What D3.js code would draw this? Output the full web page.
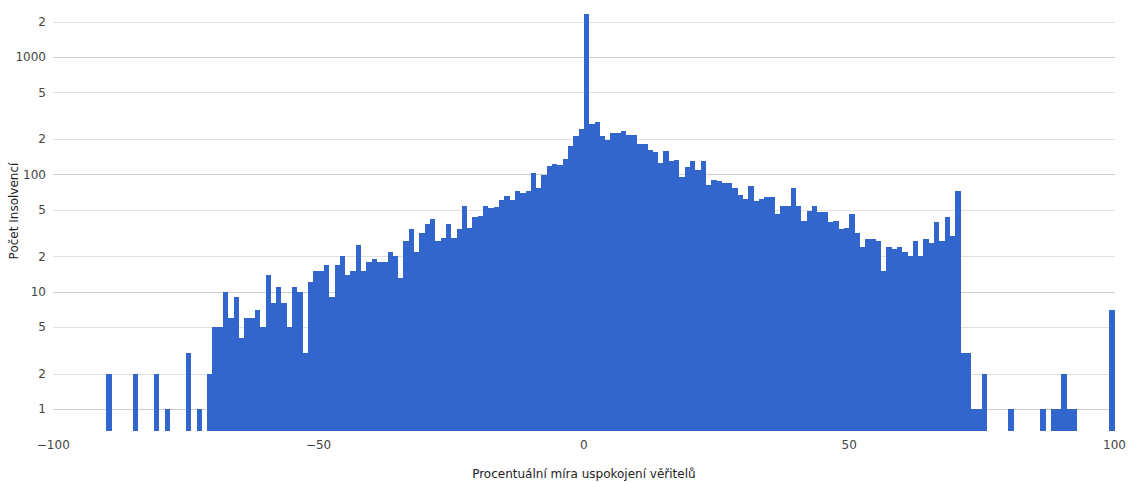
<!DOCTYPE html>
<html>
<head>
<meta charset="utf-8">
<script src="https://cdn.jsdelivr.net/npm/d3@7"></script>
<style>
  html, body { margin: 0; padding: 0; background: #fff; }
  svg { display: block; font-family: "DejaVu Sans", sans-serif; }
</style>
</head>
<body>
<svg id="chart" width="1130" height="482"></svg>
<script>
// Bin start (percent) of each non-empty 1%-wide bin
const binStarts = [
  -90, -85, -81, -79, -75, -73, -71, -70, -69, -68, -67, -66, -65, -64, -63, -62, -61,
  -60, -59, -58, -57, -56, -55, -54, -53, -52, -51, -50, -49, -48, -47, -46, -45, -44,
  -43, -42, -41, -40, -39, -38, -37, -36, -35, -34, -33, -32, -31, -30, -29, -28, -27,
  -26, -25, -24, -23, -22, -21, -20, -19, -18, -17, -16, -15, -14, -13, -12, -11, -10,
  -9, -8, -7, -6, -5, -4, -3, -2, -1, 0, 1, 2, 3, 4, 5, 6, 7, 8, 9, 10, 11, 12, 13, 14,
  15, 16, 17, 18, 19, 20, 21, 22, 23, 24, 25, 26, 27, 28, 29, 30, 31, 32, 33, 34, 35,
  36, 37, 38, 39, 40, 41, 42, 43, 44, 45, 46, 47, 48, 49, 50, 51, 52, 53, 54, 55, 56,
  57, 58, 59, 60, 61, 62, 63, 64, 65, 66, 67, 68, 69, 70, 71, 72, 73, 74, 75, 80, 86,
  88, 89, 90, 91, 92, 99
];
// Number of insolvencies in each bin
const counts = [
  2, 2, 2, 1, 3, 1, 2, 5, 5, 10, 6, 9, 4, 6, 6, 7, 5,
  14, 8, 11, 8, 5, 11, 10, 3, 12, 15, 15, 17, 9, 17, 20, 14, 15,
  25, 15, 18, 19, 18, 18, 22, 20, 13, 27, 34, 22, 32, 38, 42, 27, 29,
  38, 29, 34, 54, 35, 43, 44, 54, 52, 53, 60, 66, 61, 72, 70, 73, 102,
  77, 99, 119, 123, 120, 136, 176, 214, 244, 2330, 269, 278, 214, 196, 224, 224, 234, 215, 215, 182, 181, 163, 155, 125,
  157, 130, 132, 95, 116, 129, 110, 130, 82, 90, 88, 85, 84, 76, 67, 62, 80, 59, 62, 64, 64,
  46, 54, 54, 76, 54, 40, 49, 54, 48, 48, 39, 40, 34, 35, 46, 32, 24, 28, 28, 27, 15,
  24, 23, 24, 22, 20, 27, 20, 28, 26, 39, 27, 43, 30, 72, 3, 3, 1, 1, 2, 1, 1,
  1, 1, 2, 1, 1, 7
];
const binWidth = 1;

const xTickValues = [-100, -50, 0, 50, 100];
const xTickLabels = ["\u2212100", "\u221250", "0", "50", "100"];
const yTickValues = [1, 2, 5, 10, 20, 50, 100, 200, 500, 1000, 2000];
const yTickLabels = ["1", "2", "5", "10", "2", "5", "100", "2", "5", "1000", "2"];

const xTitle = "Procentuální míra uspokojení věřitelů";
const yTitle = "Počet Insolvencí";

(function () {
const svg = d3.select("#chart");
const pLeft = 53.3, pRight = 1114.5, pTop = 10.5, pBottom = 431;

const x = d3.scaleLinear().domain([-100, 100]).range([pLeft, pRight]);
const y = d3.scaleLog().domain([0.65, 2500]).range([pBottom, pTop]);

// gridlines
const grid = svg.append("g");
yTickValues.forEach(v => {
  const major = Math.abs(Math.log10(v) - Math.round(Math.log10(v))) < 1e-9;
  const yy = Math.round(y(v)) + 0.5;
  grid.append("line")
    .attr("x1", pLeft).attr("x2", 1115)
    .attr("y1", yy).attr("y2", yy)
    .attr("stroke", major ? "#cccccc" : "#e0e0e0")
    .attr("stroke-width", 1);
});

// bars
const data = binStarts.map((b, i) => ({ b, c: counts[i] })).filter(d => d.c > 0);
svg.append("g")
  .attr("shape-rendering", "crispEdges")
  .selectAll("rect").data(data).join("rect")
  .attr("x", d => x(d.b))
  .attr("width", d => x(d.b + binWidth) - x(d.b))
  .attr("y", d => y(d.c))
  .attr("height", d => y.range()[0] - y(d.c))
  .attr("fill", "#3366cc");

// y tick labels
svg.append("g").selectAll("text").data(yTickValues).join("text")
  .attr("x", 46)
  .attr("y", d => y(d))
  .attr("dy", "0.35em")
  .attr("text-anchor", "end")
  .attr("font-size", 12)
  .attr("fill", "#444")
  .text((d, i) => yTickLabels[i]);

// x tick labels
svg.append("g").selectAll("text").data(xTickValues).join("text")
  .attr("x", d => x(d))
  .attr("y", 449)
  .attr("text-anchor", "middle")
  .attr("font-size", 12)
  .attr("fill", "#444")
  .text((d, i) => xTickLabels[i]);

// axis titles
svg.append("text")
  .attr("x", (pLeft + pRight) / 2)
  .attr("y", 477.5)
  .attr("text-anchor", "middle")
  .attr("font-size", 12)
  .attr("fill", "#222")
  .text(xTitle);

svg.append("text")
  .attr("transform", "translate(17.5,211) rotate(-90)")
  .attr("text-anchor", "middle")
  .attr("font-size", 12)
  .attr("fill", "#222")
  .text(yTitle);
})();
</script>
</body>
</html>
